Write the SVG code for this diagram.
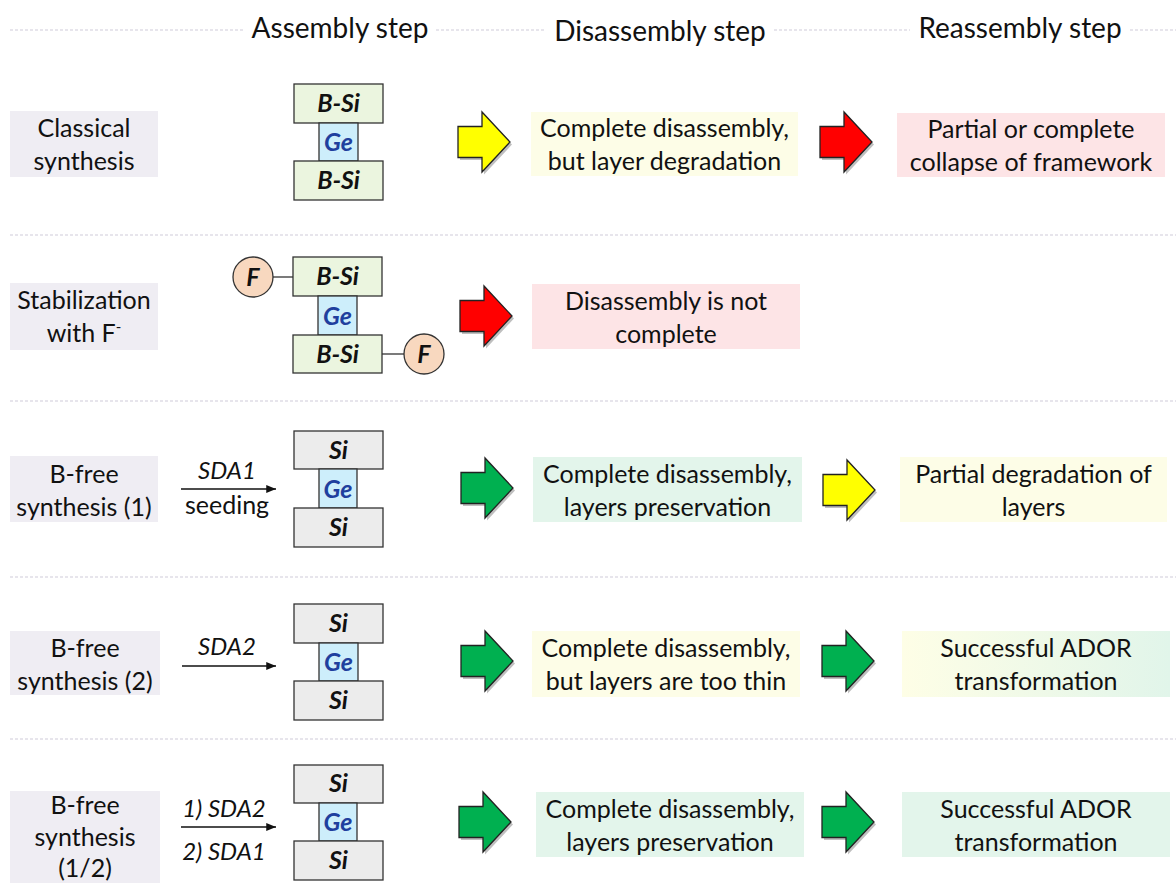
<svg xmlns="http://www.w3.org/2000/svg" width="1176" height="883" viewBox="0 0 1176 883">
  <style>
    text { font-family: Lato, "Open Sans", "Liberation Sans", sans-serif; fill: #111; }
    .hdr { font-size: 28px; text-anchor: middle; }
    .lbl { font-size: 25px; text-anchor: middle; }
    .sda { font-size: 24px; font-style: italic; text-anchor: middle; }
    .blk { font-size: 25px; font-style: italic; font-weight: bold; text-anchor: middle; }
    .ge { font-size: 25px; font-style: italic; font-weight: bold; text-anchor: middle; fill: #1f3f9e; }
    .sep { stroke: #cfcbd9; stroke-width: 1; stroke-dasharray: 3 2; fill: none; }
    .cat { fill: #efedf3; }
    .y { fill: #fdfde7; }
    .p { fill: #fde4e6; }
    .g { fill: #e3f5eb; }
    .bsi { fill: #ebf5df; stroke: #333; stroke-width: 1.3; }
    .si { fill: #ececec; stroke: #333; stroke-width: 1.3; }
    .gebox { fill: #cdeefb; stroke: #333; stroke-width: 1.3; }
    .fc { fill: #f8d8bf; stroke: #333; stroke-width: 1.3; }
    .bond { stroke: #333; stroke-width: 1.3; }
    .ln { stroke: #111; stroke-width: 1.5; fill: none; marker-end: url(#ah); }
    .ba { stroke: #222; stroke-width: 1.3; stroke-linejoin: miter; }
    .shadow { fill: #000; opacity: 0.25; }
  </style>
  <defs>
    <marker id="ah" viewBox="0 0 10 10" refX="10" refY="5" markerWidth="6.5" markerHeight="6.5" orient="auto" markerUnits="strokeWidth">
      <path d="M0,1 L10,5 L0,9 z" fill="#111"/>
    </marker>
    <!-- block arrow, origin at left end of its axis -->
    <path id="blockArrow" d="M0,-15.5 H24 V-30 L52,0 L24,30 V15.5 H0 Z"/>
    <linearGradient id="ygGrad" x1="0" y1="0" x2="1" y2="0">
      <stop offset="0" stop-color="#fefee6"/>
      <stop offset="1" stop-color="#e1f5ea"/>
    </linearGradient>
  </defs>

  <!-- column headers and separators -->
  <g id="header">
    <line class="sep" x1="10" y1="30" x2="244" y2="30"/>
    <line class="sep" x1="436" y1="30" x2="546" y2="30"/>
    <line class="sep" x1="774" y1="30" x2="910" y2="30"/>
    <line class="sep" x1="1130" y1="30" x2="1176" y2="30"/>
    <text class="hdr" x="340" y="38">Assembly step</text>
    <text class="hdr" x="660" y="41">Disassembly step</text>
    <text class="hdr" x="1020" y="38">Reassembly step</text>
  </g>
  <g id="separators">
    <line class="sep" x1="10" y1="235" x2="1176" y2="235"/>
    <line class="sep" x1="10" y1="401" x2="1176" y2="401"/>
    <line class="sep" x1="10" y1="577" x2="1176" y2="577"/>
    <line class="sep" x1="10" y1="739" x2="1176" y2="739"/>
  </g>

  <!-- row 1: classical synthesis -->
  <g id="row1-label">
    <rect class="cat" x="10" y="111" width="148" height="66"/>
    <text class="lbl" x="84" y="137">Classical</text>
    <text class="lbl" x="84" y="170">synthesis</text>
  </g>
  <g id="row1-stack">
    <rect class="bsi" x="294" y="84" width="89" height="39"/>
    <rect class="gebox" x="319" y="123" width="39" height="38"/>
    <rect class="bsi" x="294" y="161" width="89" height="39"/>
    <text class="blk" x="338.5" y="112">B-Si</text>
    <text class="ge" x="338.5" y="151">Ge</text>
    <text class="blk" x="338.5" y="189">B-Si</text>
  </g>
  <g id="row1-disassembly">
    <rect class="y" x="531" y="112" width="267" height="64"/>
    <text class="lbl" x="664.5" y="137">Complete disassembly,</text>
    <text class="lbl" x="664.5" y="170">but layer degradation</text>
  </g>
  <g id="row1-reassembly">
    <rect class="p" x="897" y="113" width="268" height="64"/>
    <text class="lbl" x="1031" y="138">Partial or complete</text>
    <text class="lbl" x="1031" y="171">collapse of framework</text>
  </g>

  <!-- row 2: stabilization with fluoride -->
  <g id="row2-label">
    <rect class="cat" x="10" y="283" width="148" height="67"/>
    <text class="lbl" x="84" y="309">Stabilization</text>
    <text class="lbl" x="84" y="342">with F<tspan font-size="15" dy="-10">-</tspan></text>
  </g>
  <g id="row2-stack">
    <line class="bond" x1="273" y1="277" x2="293" y2="277"/>
    <line class="bond" x1="382" y1="354" x2="404" y2="354"/>
    <circle class="fc" cx="253" cy="277" r="20"/>
    <circle class="fc" cx="424" cy="354" r="20"/>
    <text class="blk" x="253" y="286">F</text>
    <text class="blk" x="424" y="363">F</text>
    <rect class="bsi" x="293" y="257" width="89" height="39"/>
    <rect class="gebox" x="318" y="296" width="39" height="39"/>
    <rect class="bsi" x="293" y="335" width="89" height="38"/>
    <text class="blk" x="337.5" y="285">B-Si</text>
    <text class="ge" x="337.5" y="325">Ge</text>
    <text class="blk" x="337.5" y="363">B-Si</text>
  </g>
  <g id="row2-disassembly">
    <rect class="p" x="532" y="284" width="268" height="65"/>
    <text class="lbl" x="666" y="310">Disassembly is not</text>
    <text class="lbl" x="666" y="343">complete</text>
  </g>

  <!-- row 3: B-free synthesis (1) -->
  <g id="row3-label">
    <rect class="cat" x="10" y="456" width="148" height="66"/>
    <text class="lbl" x="84" y="483">B-free</text>
    <text class="lbl" x="84" y="516">synthesis (1)</text>
  </g>
  <g id="row3-stack">
    <rect class="si" x="294" y="431" width="89" height="38"/>
    <rect class="gebox" x="319" y="469" width="38" height="39"/>
    <rect class="si" x="294" y="508" width="89" height="39"/>
    <text class="blk" x="338.5" y="459">Si</text>
    <text class="ge" x="338" y="498">Ge</text>
    <text class="blk" x="338.5" y="536">Si</text>
  </g>
  <g id="row3-disassembly">
    <rect class="g" x="533" y="457" width="269" height="65"/>
    <text class="lbl" x="667.5" y="483">Complete disassembly,</text>
    <text class="lbl" x="667.5" y="516">layers preservation</text>
  </g>
  <g id="row3-reassembly">
    <rect class="y" x="900" y="457" width="267" height="65"/>
    <text class="lbl" x="1033.5" y="483">Partial degradation of</text>
    <text class="lbl" x="1033.5" y="516">layers</text>
  </g>

  <!-- row 4: B-free synthesis (2) -->
  <g id="row4-label">
    <rect class="cat" x="10" y="631" width="150" height="64"/>
    <text class="lbl" x="85" y="657">B-free</text>
    <text class="lbl" x="85" y="690">synthesis (2)</text>
  </g>
  <g id="row4-stack">
    <rect class="si" x="294" y="604" width="89" height="39"/>
    <rect class="gebox" x="319" y="643" width="39" height="38"/>
    <rect class="si" x="294" y="681" width="89" height="39"/>
    <text class="blk" x="338.5" y="632">Si</text>
    <text class="ge" x="338.5" y="671">Ge</text>
    <text class="blk" x="338.5" y="709">Si</text>
  </g>
  <g id="row4-disassembly">
    <rect class="y" x="532" y="631" width="268" height="66"/>
    <text class="lbl" x="666" y="657">Complete disassembly,</text>
    <text class="lbl" x="666" y="690">but layers are too thin</text>
  </g>
  <g id="row4-reassembly">
    <rect x="902" y="631" width="268" height="66" fill="url(#ygGrad)"/>
    <text class="lbl" x="1036" y="657">Successful ADOR</text>
    <text class="lbl" x="1036" y="690">transformation</text>
  </g>

  <!-- row 5: B-free synthesis (1/2) -->
  <g id="row5-label">
    <rect class="cat" x="10" y="791" width="150" height="92"/>
    <text class="lbl" x="85" y="814">B-free</text>
    <text class="lbl" x="85" y="846">synthesis</text>
    <text class="lbl" x="85" y="877">(1/2)</text>
  </g>
  <g id="row5-stack">
    <rect class="si" x="294" y="765" width="89" height="38"/>
    <rect class="gebox" x="319" y="803" width="38" height="38"/>
    <rect class="si" x="294" y="841" width="89" height="39"/>
    <text class="blk" x="338.5" y="792">Si</text>
    <text class="ge" x="338" y="831">Ge</text>
    <text class="blk" x="338.5" y="869">Si</text>
  </g>
  <g id="row5-disassembly">
    <rect class="g" x="536" y="792" width="268" height="65"/>
    <text class="lbl" x="670" y="818">Complete disassembly,</text>
    <text class="lbl" x="670" y="851">layers preservation</text>
  </g>
  <g id="row5-reassembly">
    <rect class="g" x="902" y="792" width="268" height="65"/>
    <text class="lbl" x="1036" y="818">Successful ADOR</text>
    <text class="lbl" x="1036" y="851">transformation</text>
  </g>

  <!-- connectors: synthesis arrows and step arrows -->
  <g id="connectors">
    <line class="ln" x1="181" y1="489" x2="276" y2="489"/>
    <text class="sda" x="227" y="479">SDA1</text>
    <text class="lbl" x="227" y="514">seeding</text>

    <line class="ln" x1="182" y1="666" x2="276" y2="666"/>
    <text class="sda" x="227" y="655">SDA2</text>

    <line class="ln" x1="181" y1="827" x2="276" y2="827"/>
    <text class="sda" x="224" y="817">1) SDA2</text>
    <text class="sda" x="224" y="860">2) SDA1</text>

    <!-- row 1 -->
    <use href="#blockArrow" class="shadow" x="460" y="144.5"/>
    <use href="#blockArrow" class="ba" x="458" y="142" fill="#ffff00"/>
    <use href="#blockArrow" class="shadow" x="822" y="144.5"/>
    <use href="#blockArrow" class="ba" x="820" y="142" fill="#ff0000"/>
    <!-- row 2 -->
    <use href="#blockArrow" class="shadow" x="462" y="318.5"/>
    <use href="#blockArrow" class="ba" x="460" y="316" fill="#ff0000"/>
    <!-- row 3 -->
    <use href="#blockArrow" class="shadow" x="463" y="490.5"/>
    <use href="#blockArrow" class="ba" x="461" y="488" fill="#00b050"/>
    <use href="#blockArrow" class="shadow" x="825" y="492.5"/>
    <use href="#blockArrow" class="ba" x="823" y="490" fill="#ffff00"/>
    <!-- row 4 -->
    <use href="#blockArrow" class="shadow" x="463" y="663.5"/>
    <use href="#blockArrow" class="ba" x="461" y="661" fill="#00b050"/>
    <use href="#blockArrow" class="shadow" x="824" y="663.5"/>
    <use href="#blockArrow" class="ba" x="822" y="661" fill="#00b050"/>
    <!-- row 5 -->
    <use href="#blockArrow" class="shadow" x="461" y="824.5"/>
    <use href="#blockArrow" class="ba" x="459" y="822" fill="#00b050"/>
    <use href="#blockArrow" class="shadow" x="824" y="824.5"/>
    <use href="#blockArrow" class="ba" x="822" y="822" fill="#00b050"/>
  </g>
</svg>
